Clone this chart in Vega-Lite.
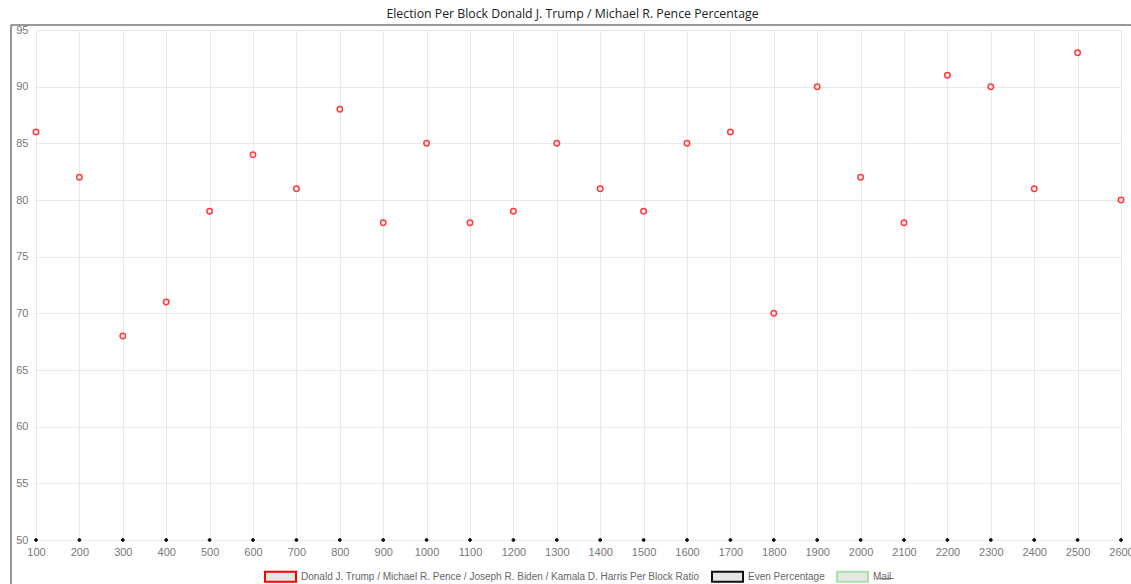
{
  "$schema": "https://vega.github.io/schema/vega-lite/v6.json",
  "width": 1085,
  "height": 510,
  "autosize": {"type": "none"},
  "padding": {"left": 36, "top": 30, "right": 10, "bottom": 44},
  "background": "white",
  "title": {
    "text": "Election Per Block Donald J. Trump / Michael R. Pence Percentage",
    "font": "Open Sans",
    "fontSize": 12.3,
    "fontWeight": 500,
    "color": "#222",
    "anchor": "middle",
    "dx": -6,
    "offset": 4
  },
  "datasets": {
    "pts": [
      {"block": 100, "pct": 86, "series": "Donald J. Trump / Michael R. Pence / Joseph R. Biden / Kamala D. Harris Per Block Ratio"},
      {"block": 200, "pct": 82, "series": "Donald J. Trump / Michael R. Pence / Joseph R. Biden / Kamala D. Harris Per Block Ratio"},
      {"block": 300, "pct": 68, "series": "Donald J. Trump / Michael R. Pence / Joseph R. Biden / Kamala D. Harris Per Block Ratio"},
      {"block": 400, "pct": 71, "series": "Donald J. Trump / Michael R. Pence / Joseph R. Biden / Kamala D. Harris Per Block Ratio"},
      {"block": 500, "pct": 79, "series": "Donald J. Trump / Michael R. Pence / Joseph R. Biden / Kamala D. Harris Per Block Ratio"},
      {"block": 600, "pct": 84, "series": "Donald J. Trump / Michael R. Pence / Joseph R. Biden / Kamala D. Harris Per Block Ratio"},
      {"block": 700, "pct": 81, "series": "Donald J. Trump / Michael R. Pence / Joseph R. Biden / Kamala D. Harris Per Block Ratio"},
      {"block": 800, "pct": 88, "series": "Donald J. Trump / Michael R. Pence / Joseph R. Biden / Kamala D. Harris Per Block Ratio"},
      {"block": 900, "pct": 78, "series": "Donald J. Trump / Michael R. Pence / Joseph R. Biden / Kamala D. Harris Per Block Ratio"},
      {"block": 1000, "pct": 85, "series": "Donald J. Trump / Michael R. Pence / Joseph R. Biden / Kamala D. Harris Per Block Ratio"},
      {"block": 1100, "pct": 78, "series": "Donald J. Trump / Michael R. Pence / Joseph R. Biden / Kamala D. Harris Per Block Ratio"},
      {"block": 1200, "pct": 79, "series": "Donald J. Trump / Michael R. Pence / Joseph R. Biden / Kamala D. Harris Per Block Ratio"},
      {"block": 1300, "pct": 85, "series": "Donald J. Trump / Michael R. Pence / Joseph R. Biden / Kamala D. Harris Per Block Ratio"},
      {"block": 1400, "pct": 81, "series": "Donald J. Trump / Michael R. Pence / Joseph R. Biden / Kamala D. Harris Per Block Ratio"},
      {"block": 1500, "pct": 79, "series": "Donald J. Trump / Michael R. Pence / Joseph R. Biden / Kamala D. Harris Per Block Ratio"},
      {"block": 1600, "pct": 85, "series": "Donald J. Trump / Michael R. Pence / Joseph R. Biden / Kamala D. Harris Per Block Ratio"},
      {"block": 1700, "pct": 86, "series": "Donald J. Trump / Michael R. Pence / Joseph R. Biden / Kamala D. Harris Per Block Ratio"},
      {"block": 1800, "pct": 70, "series": "Donald J. Trump / Michael R. Pence / Joseph R. Biden / Kamala D. Harris Per Block Ratio"},
      {"block": 1900, "pct": 90, "series": "Donald J. Trump / Michael R. Pence / Joseph R. Biden / Kamala D. Harris Per Block Ratio"},
      {"block": 2000, "pct": 82, "series": "Donald J. Trump / Michael R. Pence / Joseph R. Biden / Kamala D. Harris Per Block Ratio"},
      {"block": 2100, "pct": 78, "series": "Donald J. Trump / Michael R. Pence / Joseph R. Biden / Kamala D. Harris Per Block Ratio"},
      {"block": 2200, "pct": 91, "series": "Donald J. Trump / Michael R. Pence / Joseph R. Biden / Kamala D. Harris Per Block Ratio"},
      {"block": 2300, "pct": 90, "series": "Donald J. Trump / Michael R. Pence / Joseph R. Biden / Kamala D. Harris Per Block Ratio"},
      {"block": 2400, "pct": 81, "series": "Donald J. Trump / Michael R. Pence / Joseph R. Biden / Kamala D. Harris Per Block Ratio"},
      {"block": 2500, "pct": 93, "series": "Donald J. Trump / Michael R. Pence / Joseph R. Biden / Kamala D. Harris Per Block Ratio"},
      {"block": 2600, "pct": 80, "series": "Donald J. Trump / Michael R. Pence / Joseph R. Biden / Kamala D. Harris Per Block Ratio"}
    ],
    "even": [
      {"block": 100, "pct": 50, "series": "Even Percentage"},
      {"block": 200, "pct": 50, "series": "Even Percentage"},
      {"block": 300, "pct": 50, "series": "Even Percentage"},
      {"block": 400, "pct": 50, "series": "Even Percentage"},
      {"block": 500, "pct": 50, "series": "Even Percentage"},
      {"block": 600, "pct": 50, "series": "Even Percentage"},
      {"block": 700, "pct": 50, "series": "Even Percentage"},
      {"block": 800, "pct": 50, "series": "Even Percentage"},
      {"block": 900, "pct": 50, "series": "Even Percentage"},
      {"block": 1000, "pct": 50, "series": "Even Percentage"},
      {"block": 1100, "pct": 50, "series": "Even Percentage"},
      {"block": 1200, "pct": 50, "series": "Even Percentage"},
      {"block": 1300, "pct": 50, "series": "Even Percentage"},
      {"block": 1400, "pct": 50, "series": "Even Percentage"},
      {"block": 1500, "pct": 50, "series": "Even Percentage"},
      {"block": 1600, "pct": 50, "series": "Even Percentage"},
      {"block": 1700, "pct": 50, "series": "Even Percentage"},
      {"block": 1800, "pct": 50, "series": "Even Percentage"},
      {"block": 1900, "pct": 50, "series": "Even Percentage"},
      {"block": 2000, "pct": 50, "series": "Even Percentage"},
      {"block": 2100, "pct": 50, "series": "Even Percentage"},
      {"block": 2200, "pct": 50, "series": "Even Percentage"},
      {"block": 2300, "pct": 50, "series": "Even Percentage"},
      {"block": 2400, "pct": 50, "series": "Even Percentage"},
      {"block": 2500, "pct": 50, "series": "Even Percentage"},
      {"block": 2600, "pct": 50, "series": "Even Percentage"}
    ]
  },
  "config": {
    "view": {"stroke": null},
    "axis": {
      "labelFont": "Liberation Sans",
      "labelFontSize": 11,
      "labelColor": "#777",
      "grid": true,
      "gridColor": "#e8e8e8",
      "gridWidth": 1,
      "ticks": false,
      "domain": false,
      "title": null
    }
  },
  "layer": [
    {
      "data": {"name": "pts"},
      "mark": {"type": "point", "filled": false, "fill": "#e6e6e6", "fillOpacity": 1, "size": 30, "strokeWidth": 1.5, "opacity": 0.75},
      "encoding": {
        "x": {
          "field": "block", "type": "quantitative",
          "scale": {"domain": [100, 2600], "nice": false, "zero": false},
          "axis": {"values": [100,200,300,400,500,600,700,800,900,1000,1100,1200,1300,1400,1500,1600,1700,1800,1900,2000,2100,2200,2300,2400,2500,2600], "format": "d", "labelPadding": 6, "labelFlush": false, "grid": true}
        },
        "y": {
          "field": "pct", "type": "quantitative",
          "scale": {"domain": [50, 95], "nice": false, "zero": false},
          "axis": {"values": [50,55,60,65,70,75,80,85,90,95], "labelPadding": 8, "grid": true}
        },
        "color": {
          "field": "series", "type": "nominal",
          "scale": {
            "domain": ["Donald J. Trump / Michael R. Pence / Joseph R. Biden / Kamala D. Harris Per Block Ratio", "Even Percentage", "Mail"],
            "range": ["#ff0000", "#111111", "#a6e3a6"]
          },
          "legend": {
            "orient": "none",
            "legendX": 228,
            "legendY": 530,
            "direction": "horizontal",
            "title": null,
            "symbolType": "M-1,-0.32H1V0.32H-1Z",
            "symbolSize": 961,
            "symbolStrokeWidth": 2,
            "symbolFillColor": "#e0e0e0",
            "symbolOpacity": 1,
            "labelFont": "Liberation Sans",
            "labelFontSize": 10,
            "labelColor": "#666",
            "labelOffset": 4,
            "columnPadding": 8,
            "labelLimit": 600,
            "labelExpr": "datum.label == 'Mail' ? 'M\u0336a\u0336i\u0336l\u0336' : datum.label",
            "encode": {"symbols": {"update": {"fill": {"value": "#e0e0e0"}, "fillOpacity": {"value": 1}, "opacity": {"value": 1}}}}
          }
        }
      }
    },
    {
      "data": {"name": "even"},
      "mark": {"type": "point", "filled": false, "fill": "#111111", "fillOpacity": 1, "size": 8, "strokeWidth": 1, "opacity": 1},
      "encoding": {
        "x": {"field": "block", "type": "quantitative"},
        "y": {"field": "pct", "type": "quantitative"},
        "color": {"field": "series", "type": "nominal"}
      }
    },
    {
      "data": {"values": [{}]},
      "mark": {"type": "rule", "color": "#777", "strokeWidth": 1.5, "clip": false},
      "encoding": {
        "x": {"datum": 42.4, "type": "quantitative"},
        "y": {"datum": 95.44, "type": "quantitative"},
        "y2": {"datum": 45}
      }
    },
    {
      "data": {"values": [{}]},
      "mark": {"type": "rule", "color": "#777", "strokeWidth": 1.5, "clip": false},
      "encoding": {
        "x": {"datum": 42.4, "type": "quantitative"},
        "x2": {"datum": 2650},
        "y": {"datum": 95.44, "type": "quantitative"}
      }
    }
  ]
}
